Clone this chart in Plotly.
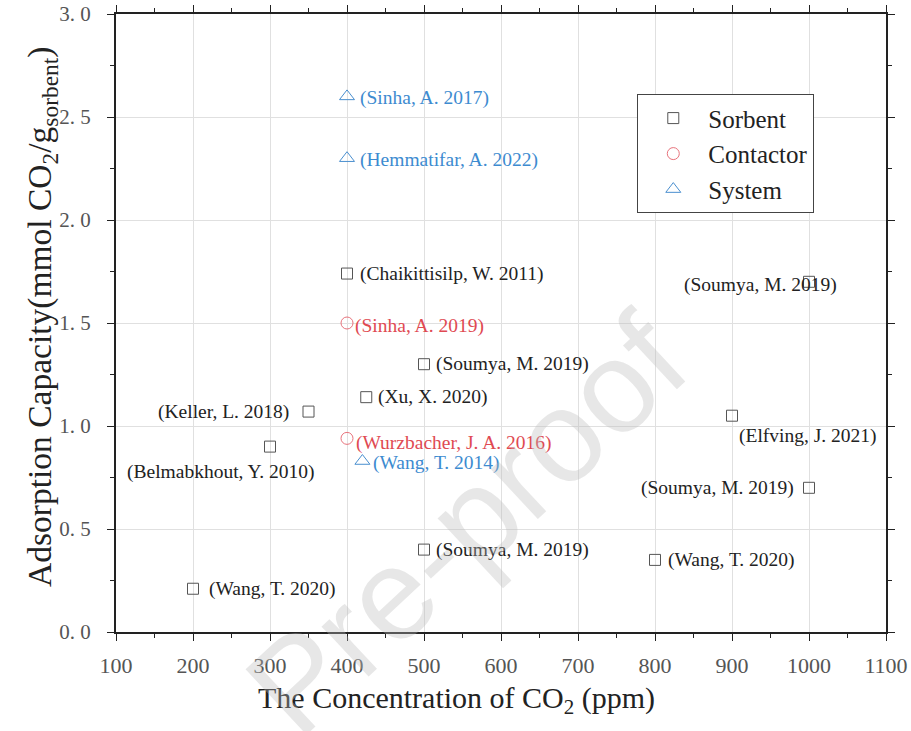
import plotly.graph_objects as go

# ---------------- data ----------------
sorbent_x = [200, 300, 350, 400, 425, 500, 500, 800, 900, 1000, 1000]
sorbent_y = [0.21, 0.90, 1.07, 1.74, 1.14, 1.30, 0.40, 0.35, 1.05, 0.70, 1.70]
sorbent_labels = ["(Wang, T. 2020)", "(Belmabkhout, Y. 2010)", "(Keller, L. 2018)",
                  "(Chaikittisilp, W. 2011)", "(Xu, X. 2020)", "(Soumya, M. 2019)",
                  "(Soumya, M. 2019)", "(Wang, T. 2020)", "(Elfving, J. 2021)",
                  "(Soumya, M. 2019)", "(Soumya, M. 2019)"]

contactor_x = [400, 400]
contactor_y = [1.50, 0.94]
contactor_labels = ["(Sinha, A. 2019)", "(Wurzbacher, J. A. 2016)"]

system_x = [400, 400, 420]
system_y = [2.60, 2.30, 0.83]
system_labels = ["(Sinha, A. 2017)", "(Hemmatifar, A. 2022)", "(Wang, T. 2014)"]

x_ticks = [100, 200, 300, 400, 500, 600, 700, 800, 900, 1000, 1100]
y_ticks = [0.0, 0.5, 1.0, 1.5, 2.0, 2.5, 3.0]
y_ticktext = ["0. 0", "0. 5", "1. 0", "1. 5", "2. 0", "2. 5", "3. 0"]

x_title = "The Concentration of CO<sub>2</sub> (ppm)"
y_title = "Adsorption Capacity(mmol CO<sub>2</sub>/g<sub>sorbent</sub>)"

# ---------------- styles ----------------
SORB_C = "#555555"
CONT_C = "#e8737c"
SYS_C = "#4a8fcf"
SORB_T = "#222222"
CONT_T = "#e04a52"
SYS_T = "#3d8bd0"
SERIF = "Liberation Serif"
LBL = 19.5

# label placement: (xanchor, xshift, yshift)
sorb_place = [("left", 14, 0), ("center", -50, -25), ("right", -18, 0),
              ("left", 11, 0), ("left", 10, 0), ("left", 10, 0),
              ("left", 10, 0), ("left", 11, 0), ("left", 5, -20),
              ("right", -13, 0), ("center", -49, -3)]
cont_place = [("left", 6, -3), ("left", 7, -5)]
sys_place = [("left", 11, -2), ("left", 11, -2), ("left", 9, -2)]

fig = go.Figure()
fig.add_trace(go.Scatter(x=sorbent_x, y=sorbent_y, mode="markers", name="Sorbent",
                         marker=dict(symbol="square-open", size=11, color=SORB_C, line=dict(width=1))))
fig.add_trace(go.Scatter(x=contactor_x, y=contactor_y, mode="markers", name="Contactor",
                         marker=dict(symbol="circle-open", size=12, color=CONT_C, line=dict(width=1))))
fig.add_trace(go.Scatter(x=system_x, y=system_y, mode="markers", name="System",
                         marker=dict(symbol="triangle-up-open", size=13, color=SYS_C, line=dict(width=1))))

annotations = []
for xs, ys, labs, places, col in [
    (sorbent_x, sorbent_y, sorbent_labels, sorb_place, SORB_T),
    (contactor_x, contactor_y, contactor_labels, cont_place, CONT_T),
    (system_x, system_y, system_labels, sys_place, SYS_T),
]:
    for x, y, t, (xa, xs_, ys_) in zip(xs, ys, labs, places):
        annotations.append(dict(x=x, y=y, text=t, showarrow=False, xanchor=xa,
                                yanchor="middle", xshift=xs_, yshift=ys_,
                                font=dict(family=SERIF, size=LBL, color=col)))

# axis titles
annotations.append(dict(x=0.442, y=-0.11, xref="paper", yref="paper", text=x_title,
                        showarrow=False, xanchor="center", yanchor="middle",
                        font=dict(family=SERIF, size=30, color="#222222")))
annotations.append(dict(x=-0.096, y=0.51, xref="paper", yref="paper", text=y_title,
                        showarrow=False, xanchor="center", yanchor="middle", textangle=-90,
                        font=dict(family=SERIF, size=33.5, color="#222222")))

# watermark
annotations.append(dict(x=0.455, y=0.175, xref="paper", yref="paper", text="Pre-proof",
                        showarrow=False, textangle=-43, xanchor="center", yanchor="middle",
                        font=dict(family="Liberation Sans", size=130, color="rgba(185,185,185,0.35)")))

fig.update_layout(
    width=911, height=731,
    margin=dict(l=116, r=25, t=14, b=99, autoexpand=False),
    paper_bgcolor="white", plot_bgcolor="white",
    showlegend=True,
    legend=dict(x=0.677, y=0.87, xanchor="left", yanchor="top",
                bordercolor="#444444", borderwidth=1, bgcolor="white",
                font=dict(family=SERIF, size=25, color="#222222"),
                itemwidth=60, tracegroupgap=0),
    annotations=annotations,
)
fig.update_xaxes(range=[100, 1100], tickvals=x_ticks, showgrid=True, gridcolor="#e0e0e0",
                 showline=True, linecolor="#222222", linewidth=2, mirror="ticks",
                 ticks="outside", ticklen=7, tickcolor="#222222", automargin=False,
                 ticklabelstandoff=6, ticklabeloverflow="allow",
                 minor=dict(dtick=50, ticks="outside", ticklen=4, tickcolor="#222222"),
                 tickfont=dict(family=SERIF, size=22, color="#555555"), zeroline=False)
fig.update_yaxes(range=[0, 3.0], tickvals=y_ticks, ticktext=y_ticktext, showgrid=True,
                 gridcolor="#e0e0e0", showline=True, linecolor="#222222", linewidth=2,
                 mirror="ticks", ticks="outside", ticklen=7, tickcolor="#222222", automargin=False,
                 ticklabelstandoff=12, ticklabeloverflow="allow",
                 minor=dict(dtick=0.25, ticks="outside", ticklen=4, tickcolor="#222222"),
                 tickfont=dict(family=SERIF, size=21, color="#555555"), zeroline=False)

fig.write_html("out.html", config={"displayModeBar": False},
               post_script="document.body.style.margin='0';")
